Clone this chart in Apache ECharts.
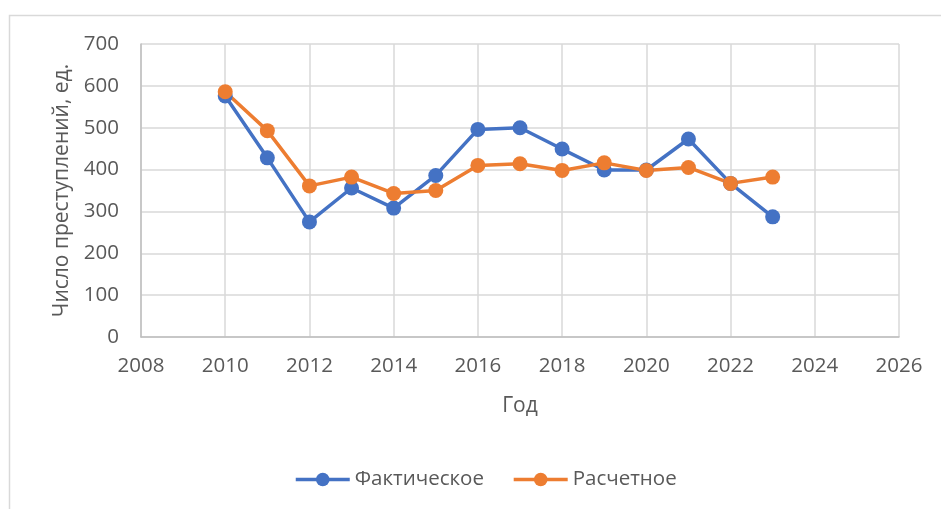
<!DOCTYPE html>
<html>
<head>
<meta charset="utf-8">
<script src="https://cdn.jsdelivr.net/npm/echarts@6/dist/echarts.min.js"></script>
<style>
html, body { margin: 0; padding: 0; background: #fff; }
#chart { width: 941px; height: 509px; }
</style>
</head>
<body>
<div id="chart"></div>
<script>
var years = [2010, 2011, 2012, 2013, 2014, 2015, 2016, 2017, 2018, 2019, 2020, 2021, 2022, 2023];
var actual = [576, 428, 275, 356, 308, 386, 496, 500, 449, 399, 399, 473, 367, 287];
var estimated = [586, 493, 361, 382, 343, 350, 410, 414, 398, 416, 398, 405, 367, 382];

function pairs(vals) {
    return years.map(function (y, i) { return [y, vals[i]]; });
}

var textColor = '#595959';
var font = 'Open Sans';

var myChart = echarts.init(document.getElementById('chart'), null, { renderer: 'canvas' });
var option = {
    animation: false,
    backgroundColor: '#fff',
    graphic: [{
        type: 'rect',
        shape: { x: 9.5, y: 15.5, width: 960, height: 520 },
        style: { fill: 'none', stroke: '#d9d9d9', lineWidth: 1.5 },
        silent: true
    }],
    grid: {
        left: 141,
        right: 42,
        top: 44,
        bottom: 172
    },
    legend: {
        bottom: 14,
        left: 289,
        itemWidth: 54,
        itemHeight: 17,
        itemGap: 28,
        lineStyle: { width: 3.5 },
        textStyle: { color: textColor, fontSize: 20.5, fontFamily: font },
        data: ['Фактическое', 'Расчетное']
    },
    xAxis: {
        type: 'value',
        min: 2008,
        max: 2026,
        interval: 2,
        name: 'Год',
        nameLocation: 'middle',
        nameGap: 59,
        nameTextStyle: { color: textColor, fontSize: 21, fontFamily: font },
        axisLine: { show: true, lineStyle: { color: '#bfbfbf', width: 1.5 } },
        axisTick: { show: false },
        axisLabel: {
            color: textColor, fontSize: 20.5, fontFamily: font, margin: 19,
            formatter: function (v) { return String(v); }
        },
        splitLine: { show: true, lineStyle: { color: '#d9d9d9', width: 1.5 } }
    },
    yAxis: {
        type: 'value',
        min: 0,
        max: 700,
        interval: 100,
        name: 'Число преступлений, ед.',
        nameLocation: 'middle',
        nameGap: 66,
        nameTextStyle: { color: textColor, fontSize: 21, fontFamily: font },
        axisLine: { show: true, lineStyle: { color: '#bfbfbf', width: 1.5 } },
        axisTick: { show: false },
        axisLabel: { color: textColor, fontSize: 20.5, fontFamily: font, margin: 22 },
        splitLine: { show: true, lineStyle: { color: '#d9d9d9', width: 1.5 } }
    },
    series: [{
        name: 'Фактическое',
        type: 'line',
        data: pairs(actual),
        symbol: 'circle',
        symbolSize: 15,
        lineStyle: { color: '#4472C4', width: 3.5 },
        itemStyle: { color: '#4472C4' }
    }, {
        name: 'Расчетное',
        type: 'line',
        data: pairs(estimated),
        symbol: 'circle',
        symbolSize: 15,
        lineStyle: { color: '#ED7D31', width: 3.5 },
        itemStyle: { color: '#ED7D31' }
    }]
};
myChart.setOption(option);
</script>
</body>
</html>
